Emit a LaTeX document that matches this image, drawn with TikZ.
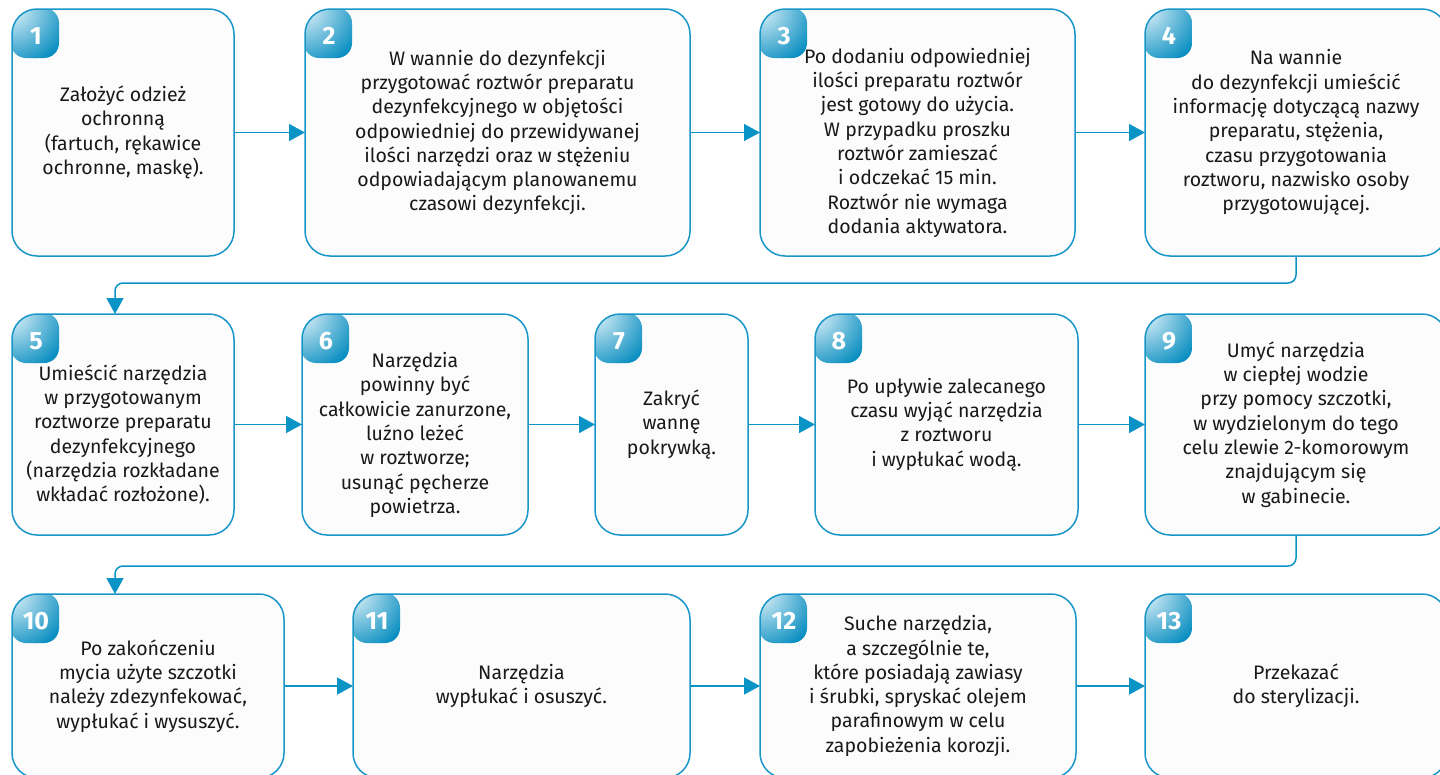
\documentclass[tikz,border=0pt]{standalone}
\usepackage{fontspec}
\setmainfont{Fira Sans}
\usepackage{tikz}
\usetikzlibrary{arrows.meta,positioning,shadings}
\definecolor{boxblue}{RGB}{24,150,200}
\definecolor{arrowblue}{RGB}{10,148,198}
\definecolor{badgedark}{RGB}{0,138,190}
\definecolor{badgelight}{RGB}{225,243,250}
\definecolor{boxfill}{RGB}{252,252,252}
\definecolor{textgray}{RGB}{25,25,25}
\newcommand\dropline{\rule{0pt}{36pt}}
\tikzset{>={Triangle[length=16pt,width=17pt]}}
\tikzset{
    numtext/.style={draw=none, fill=none, path picture={}, minimum width=0pt,
        minimum height=0pt, inner sep=0pt, text=white,
        font=\fontsize{25}{25}\selectfont\bfseries},
    stepbox/.style={draw=boxblue, line width=1.5pt, fill=boxfill,
        rounded corners=25pt, inner sep=0pt, outer sep=0pt, align=center,
        text=textgray, font=\fontsize{19.5}{24.3}\selectfont,
        path picture={
            \coordinate (corner) at (path picture bounding box.north west);
            \begin{scope}
                \clip[rounded corners=15pt] ([shift={(-1pt,1pt)}]corner)
                    rectangle ([shift={(47pt,-49pt)}]corner);
                \fill[badgedark] ([shift={(-1pt,1pt)}]corner) rectangle ([shift={(47pt,-49pt)}]corner);
                \shade[inner color=badgelight, outer color=badgedark] (corner) circle (62pt);
            \end{scope}
            \node[numtext] at ([shift={(24pt,-27pt)}]corner) {#1};
        }},
    row1/.style={minimum height=247pt},
    row2/.style={minimum height=221pt},
    row3/.style={minimum height=184pt},
    flow/.style={->, draw=arrowblue, line width=1.5pt}
}
\begin{document}
\begin{tikzpicture}[x=1pt,y=-1pt]
    \useasboundingbox (0,0) rectangle (1440,774);
    \clip (0,0) rectangle (1440,774);
    % first row
    \node[stepbox=1,row1,minimum width=222pt] at (123,132.5) (s1) {Założyć odzież\\ochronną\\(fartuch, rękawice\\ochronne, maskę).};
    \node[stepbox=2,row1,minimum width=385pt] at (497.5,132.5) (s2) {W wannie do dezynfekcji\\przygotować roztwór preparatu\\dezynfekcyjnego w objętości\\odpowiedniej do przewidywanej\\ilości narzędzi oraz w stężeniu\\odpowiadającym planowanemu\\czasowi dezynfekcji.};
    \node[stepbox=3,row1,minimum width=315pt] at (917.5,132.5) (s3) {\dropline Po dodaniu odpowiedniej\\ilości preparatu roztwór\\jest gotowy do użycia.\\W przypadku proszku\\roztwór zamieszać\\i odczekać 15 min.\\Roztwór nie wymaga\\dodania aktywatora.};
    \node[stepbox=4,row1,minimum width=302pt] at (1296,132.5) (s4) {Na wannie\\do dezynfekcji umieścić\\informację dotyczącą nazwy\\preparatu, stężenia,\\czasu przygotowania\\roztworu, nazwisko osoby\\przygotowującej.};
    % second row
    \node[stepbox=5,row2,minimum width=222pt] at (123,424.5) (s5) {\dropline Umieścić narzędzia\\w przygotowanym\\roztworze preparatu\\dezynfekcyjnego\\(narzędzia rozkładane\\wkładać rozłożone).};
    \node[stepbox=6,row2,minimum width=226pt] at (415,424.5) (s6) {\dropline Narzędzia\\powinny być\\całkowicie zanurzone,\\luźno leżeć\\w roztworze;\\usunąć pęcherze\\powietrza.};
    \node[stepbox=7,row2,minimum width=153pt] at (671.5,424.5) (s7) {Zakryć\\wannę\\pokrywką.};
    \node[stepbox=8,row2,minimum width=263pt] at (946.5,424.5) (s8) {Po upływie zalecanego\\czasu wyjąć narzędzia\\z roztworu\\i wypłukać wodą.};
    \node[stepbox=9,row2,minimum width=302pt] at (1296,424.5) (s9) {Umyć narzędzia\\w ciepłej wodzie\\przy pomocy szczotki,\\w wydzielonym do tego\\celu zlewie 2-komorowym\\znajdującym się\\w gabinecie.};
    % third row
    \node[stepbox=10,row3,minimum width=272pt] at (148,686) (s10) {Po zakończeniu\\mycia użyte szczotki\\należy zdezynfekować,\\wypłukać i wysuszyć.};
    \node[stepbox=11,row3,minimum width=337pt] at (521.5,686) (s11) {Narzędzia\\wypłukać i osuszyć.};
    \node[stepbox=12,row3,minimum width=316pt] at (918,686) (s12) {Suche narzędzia,\\a szczególnie te,\\które posiadają zawiasy\\i śrubki, spryskać olejem\\parafinowym w celu\\zapobieżenia korozji.};
    \node[stepbox=13,row3,minimum width=302pt] at (1296,686) (s13) {Przekazać\\do sterylizacji.};
    \coordinate (in5) at ([xshift=-8pt]s5.north);
    \coordinate (in10) at (s10.north -| in5);
    \foreach \a/\b in {s1/s2,s2/s3,s3/s4,s5/s6,s6/s7,s7/s8,s8/s9,s10/s11,s11/s12,s12/s13}
        \draw[flow] (\a) -- (\b);
    % row changes
    \draw[flow,rounded corners=8pt] (s4.south) -- ++(0,27) -| (in5);
    \draw[flow,rounded corners=8pt] (s9.south) -- ++(0,31) -| (in10);
\end{tikzpicture}
\end{document}
